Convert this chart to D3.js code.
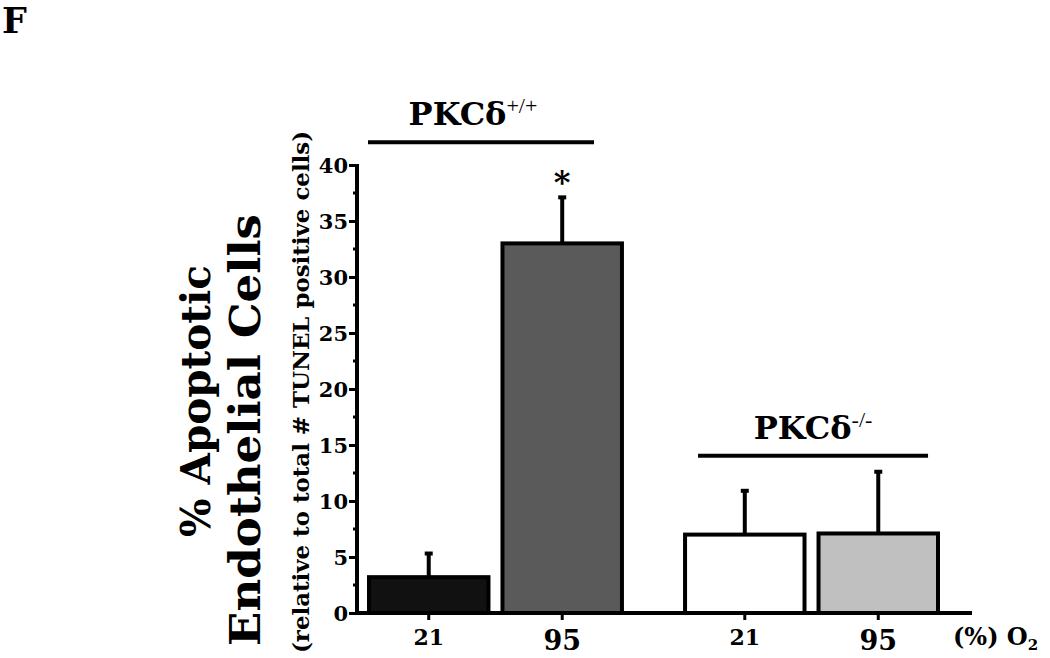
<!DOCTYPE html>
<html>
<head>
<meta charset="utf-8">
<script src="https://cdn.jsdelivr.net/npm/d3@7"></script>
<style>
  html, body { margin: 0; padding: 0; background: #fff; }
  svg { display: block; }
  text { font-family: "DejaVu Serif", serif; font-weight: bold; fill: #000; }
</style>
</head>
<body>
<svg id="chart" width="1050" height="658"></svg>
<script>
// ---- data ----
const groups = ["PKCδ+/+", "PKCδ-/-"];
const groupBase = ["PKCδ", "PKCδ"];
const groupSup = ["+/+", "-/-"];
const oxygen = ["21", "95"];
const values = [3.2, 33.0, 7.0, 7.1];        // mean % apoptotic
const errors = [2.2, 4.2, 4.0, 5.6];         // SE upward
const fills = ["#111111", "#5a5a5a", "#ffffff", "#c0c0c0"];
const significant = [false, true, false, false];
const yTicks = [0, 5, 10, 15, 20, 25, 30, 35, 40];

const rows = [];
groups.forEach((g, gi) => oxygen.forEach((o, oi) => {
  const i = gi * 2 + oi;
  rows.push({group: g, o2: o, value: values[i], err: errors[i], fill: fills[i], sig: significant[i]});
}));

const svg = d3.select("#chart");

const y = d3.scaleLinear().domain([0, 40]).range([613, 165]);
const xAxisLeft = 357, xAxisRight = 972;
const xg = d3.scaleBand().domain(groups).range([367, 940]).paddingInner(0.187).paddingOuter(0);
const xi = d3.scaleBand().domain(oxygen).range([0, xg.bandwidth()]).paddingInner(0.075).paddingOuter(0);
const cx = d => xg(d.group) + xi(d.o2) + xi.bandwidth() / 2;

// panel letter
svg.append("text").attr("x", 2).attr("y", 33).style("font-size", "35px").text("F");

// bars
svg.selectAll("rect.bar").data(rows).enter().append("rect")
  .attr("class", "bar")
  .attr("x", d => xg(d.group) + xi(d.o2) + 2)
  .attr("width", xi.bandwidth() - 4)
  .attr("y", d => y(d.value))
  .attr("height", d => y(0) - y(d.value))
  .attr("fill", d => d.fill)
  .attr("stroke", "#000").attr("stroke-width", 4);

// error bars
const eb = svg.selectAll("g.err").data(rows).enter().append("g");
eb.append("line")
  .attr("x1", cx).attr("x2", cx)
  .attr("y1", d => y(d.value)).attr("y2", d => y(d.value + d.err))
  .attr("stroke", "#000").attr("stroke-width", 4);
eb.append("line")
  .attr("x1", d => cx(d) - 4).attr("x2", d => cx(d) + 4)
  .attr("y1", d => y(d.value + d.err) + 1).attr("y2", d => y(d.value + d.err) + 1)
  .attr("stroke", "#000").attr("stroke-width", 4);

// significance asterisk
svg.selectAll("text.sig").data(rows.filter(d => d.sig)).enter().append("text")
  .attr("x", cx).attr("y", d => y(d.value + d.err) - 3)
  .attr("text-anchor", "middle").style("font-size", "32px").text("*");

// y axis
const yAxis = d3.axisLeft(y).tickValues(yTicks).tickSize(8).tickPadding(1).tickFormat(d3.format("d"));
const gy = svg.append("g").attr("transform", `translate(${xAxisLeft},0)`).call(yAxis);
gy.select(".domain").remove();
gy.selectAll(".tick line").attr("stroke", "#000").attr("stroke-width", 3);
gy.selectAll(".tick text").style("font-size", "21px").style("font-family", "DejaVu Serif").style("font-weight", "bold").attr("dy", "0.35em");
// minor ticks
const minor = d3.range(2.5, 40, 5);
svg.append("g").selectAll("line").data(minor).enter().append("line")
  .attr("x1", xAxisLeft - 4).attr("x2", xAxisLeft)
  .attr("y1", d => y(d)).attr("y2", d => y(d))
  .attr("stroke", "#000").attr("stroke-width", 3);
svg.append("line").attr("x1", xAxisLeft).attr("x2", xAxisLeft)
  .attr("y1", y(40) - 1).attr("y2", y(0) + 2)
  .attr("stroke", "#000").attr("stroke-width", 4);

// x axis
svg.append("line").attr("x1", xAxisLeft - 2).attr("x2", xAxisRight)
  .attr("y1", y(0)).attr("y2", y(0)).attr("stroke", "#000").attr("stroke-width", 4);
svg.selectAll("line.xt").data(rows).enter().append("line")
  .attr("x1", cx).attr("x2", cx).attr("y1", y(0)).attr("y2", y(0) + 7)
  .attr("stroke", "#000").attr("stroke-width", 3);
svg.selectAll("text.xl").data(rows).enter().append("text")
  .attr("x", cx).attr("y", d => d.o2 === "21" ? 645 : 650)
  .attr("text-anchor", "middle")
  .style("font-size", d => d.o2 === "21" ? "22px" : "27px")
  .text(d => d.o2);
const o2t = svg.append("text").attr("x", 953).attr("y", 645).style("font-size", "24px");
o2t.append("tspan").text("(%) O");
o2t.append("tspan").attr("dy", 5).style("font-size", "15px").text("2");

// group labels and lines
const lineSpan = [[1, 227], [15, 245]];
const labelShift = [-8, 0];
groups.forEach((g, gi) => {
  const x0 = xg(g);
  const ly = y(d3.max(rows.filter(r => r.group === g), r => r.value + r.err)) - (gi === 0 ? 54 : 15);
  svg.append("line").attr("x1", x0 + lineSpan[gi][0]).attr("x2", x0 + lineSpan[gi][1])
    .attr("y1", ly).attr("y2", ly).attr("stroke", "#000").attr("stroke-width", 4);
  const t = svg.append("text").attr("x", x0 + (lineSpan[gi][0] + lineSpan[gi][1]) / 2 + labelShift[gi])
    .attr("y", ly - 17).attr("text-anchor", "middle").style("font-size", "32px");
  t.append("tspan").text(groupBase[gi]);
  t.append("tspan").attr("dy", -12).style("font-size", "22px").style("font-weight", "normal").style("font-family", "Liberation Serif").text(groupSup[gi]);
});

// y titles
svg.append("text").attr("transform", "translate(210,401) rotate(-90)")
  .attr("text-anchor", "middle").style("font-size", "41px")
  .attr("textLength", 272).attr("lengthAdjust", "spacingAndGlyphs").text("% Apoptotic");
svg.append("text").attr("transform", "translate(260,430) rotate(-90)")
  .attr("text-anchor", "middle").style("font-size", "42px")
  .attr("textLength", 432).attr("lengthAdjust", "spacingAndGlyphs").text("Endothelial Cells");
svg.append("text").attr("transform", "translate(309,392) rotate(-90)")
  .attr("text-anchor", "middle").style("font-size", "22px")
  .attr("textLength", 522).attr("lengthAdjust", "spacingAndGlyphs").text("(relative to total # TUNEL positive cells)");
</script>
</body>
</html>
